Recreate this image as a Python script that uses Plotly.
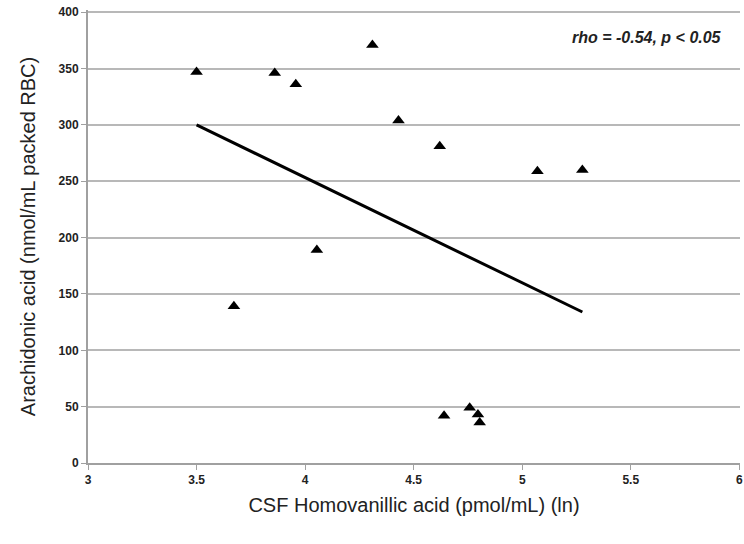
import plotly.graph_objects as go

hva_ln = [3.50, 3.672, 3.86, 3.957, 4.054, 4.31, 4.43, 4.62, 4.64, 4.758, 4.796, 4.804, 5.07, 5.277]
arachidonic = [347, 139, 346, 336, 189, 371, 304, 281, 42, 49, 43, 36, 259, 260]
fit_x = [3.50, 5.277]
fit_y = [300, 134]
x_ticks = [3, 3.5, 4, 4.5, 5, 5.5, 6]
y_ticks = [0, 50, 100, 150, 200, 250, 300, 350, 400]
annotation_text = "rho = -0.54, p < 0.05"

fig = go.Figure()
fig.add_trace(go.Scatter(x=fit_x, y=fit_y, mode="lines",
                         line=dict(color="black", width=3), showlegend=False))
fig.add_trace(go.Scatter(x=hva_ln, y=arachidonic, mode="markers",
                         marker=dict(symbol="triangle-up", size=11, color="black"),
                         showlegend=False))

tickfont = dict(family="Liberation Sans Narrow, Arial Narrow, Liberation Sans", size=12, color="#222222")
fig.update_layout(
    width=744, height=544,
    margin=dict(l=88, r=4, t=10, b=81),
    paper_bgcolor="white", plot_bgcolor="white",
    font=dict(family="Liberation Sans, Arial", color="#222222"),
    xaxis=dict(range=[3, 6.003], tickvals=x_ticks,
               ticktext=["<b>%g</b>" % v for v in x_ticks],
               automargin=False, ticklabeloverflow="allow",
               showgrid=False, zeroline=False, showline=True, linecolor="#a0a0a0", linewidth=2,
               ticks="outside", ticklen=5, tickcolor="#a0a0a0", tickfont=tickfont,
               title=dict(text="CSF Homovanillic acid (pmol/mL) (ln)", font=dict(size=20, color="#222222"), standoff=12)),
    yaxis=dict(range=[0, 402], tickvals=y_ticks,
               ticktext=["<b>%d</b>" % v for v in y_ticks],
               automargin=False, ticklabeloverflow="allow",
               showgrid=True, gridcolor="#b8b8b8", gridwidth=1.5, zeroline=False,
               showline=True, linecolor="#a0a0a0", linewidth=2,
               ticks="outside", ticklen=5, tickcolor="#a0a0a0", tickfont=tickfont,
               title=dict(text="Arachidonic acid (nmol/mL packed RBC)", font=dict(size=20, color="#222222"), standoff=18)),
    annotations=[dict(x=0.975, y=0.94, xref="paper", yref="paper", xanchor="right", yanchor="middle",
                      text="<b><i>" + annotation_text + "</i></b>", showarrow=False,
                      font=dict(size=16, color="#222222"))],
)
fig.write_html("out.html", config={"displayModeBar": False},
               post_script="document.body.style.margin='0';")
